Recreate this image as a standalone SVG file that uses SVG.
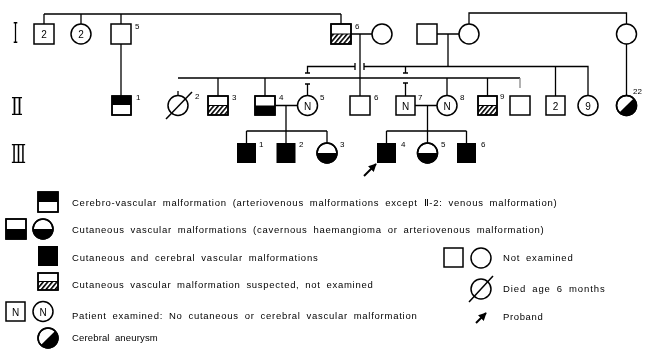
<svg xmlns="http://www.w3.org/2000/svg" width="649" height="355" viewBox="0 0 649 355">
<defs>
<style>
.ln{stroke:#000;stroke-width:1.3;fill:none}
.sh{fill:#fff;stroke:#000;stroke-width:1.5}
.ol{fill:none;stroke:#000;stroke-width:1.5}
.blk{fill:#000}
.hat{fill:url(#hatch)}
.lbl{font-family:"Liberation Sans",Arial,sans-serif;font-size:8px;fill:#000}
.in{font-family:"Liberation Sans",Arial,sans-serif;font-size:10px;fill:#000;text-anchor:middle}
.rom{font-family:"DejaVu Serif","Liberation Serif",serif;fill:#000}
.lg{font-family:"Liberation Sans",Arial,sans-serif;font-size:9.5px;letter-spacing:0.3px;word-spacing:2.5px;fill:#000}
</style>
<filter id="gs" filterUnits="userSpaceOnUse" x="0" y="0" width="649" height="355"><feOffset dx="0" dy="0"/></filter>
<pattern id="hatch" width="3.5" height="3.5" patternUnits="userSpaceOnUse" patternTransform="rotate(40)">
<line x1="0.8" y1="0" x2="0.8" y2="3.5" stroke="#000" stroke-width="1.6"/>
</pattern>
<marker id="arr" viewBox="0 0 10 10" refX="9" refY="5" markerWidth="4" markerHeight="4" orient="auto">
<path d="M0 0 L10 5 L0 10 Z" fill="#000"/>
</marker>
</defs>
<rect width="649" height="355" fill="#fff"/>
<g id="diagram" filter="url(#gs)">
<rect width="649" height="355" fill="#fff"/>

<!-- generation numerals -->
<g id="generations">
<text class="rom" x="13" y="43" font-size="27" textLength="5" lengthAdjust="spacingAndGlyphs">I</text>
<text class="rom" x="11" y="115" font-size="25" textLength="12" lengthAdjust="spacingAndGlyphs">Ⅱ</text>
<text class="rom" x="11" y="163" font-size="26" textLength="15" lengthAdjust="spacingAndGlyphs">Ⅲ</text>
</g>

<!-- connectors -->
<g id="connectors" class="ln">
<path d="M44 14 H341 M44 14 V24 M81 14 V24 M121 14 V24 M341 14 V24"/>
<path d="M351 34 H372 M360 34 V96"/>
<path d="M437 34 H459 M448 34 V66.5"/>
<path d="M469 24 V13 H626.5 V24 M626.5 44 V95.5"/>
<path d="M121 44 V96"/>
<path d="M307.5 73 V66.5 H355 M364 66.5 H588 V95.5 M355 63 V70 M364 63 V70"/>
<path d="M305 73 H310 M305 84 H310 M307.5 84 V95.5"/>
<path d="M405.5 66.5 V73 M403 73 H408 M403 83 H408 M405.5 83 V96"/>
<path d="M555.5 66.5 V96"/>
<path d="M178 78 H520 M218 78 V96 M265 78 V96 M447 78 V95.5 M487.5 78 V96"/>
<path d="M520 78 V88" stroke="#888"/>
<path d="M178 91 V95.5"/>
<path d="M275 105.5 H297.5 M286 105.5 V131 M246.5 131 H327 M246.5 131 V143 M327 131 V143"/>
<path d="M415 105.5 H437.5 M427.5 105.5 V143 M386.5 131 H466.5 M386.5 131 V143 M466.5 131 V143"/>
<path d="M286 131 V143"/>
</g>

<!-- Generation I -->
<g id="I-2m"><rect class="sh" x="34" y="24" width="20" height="20"/><text class="in" x="44" y="38">2</text></g>
<g id="I-2f"><circle class="sh" cx="81" cy="34" r="10"/><text class="in" x="81" y="38">2</text></g>
<g id="I-5"><rect class="sh" x="111" y="24" width="20" height="20"/><text class="lbl" x="135" y="29">5</text></g>
<g id="I-6"><rect class="sh" x="331" y="24" width="20" height="20"/><rect class="hat" x="331" y="34" width="20" height="10"/><rect class="ol" x="331" y="24" width="20" height="20"/><line x1="331" y1="34" x2="351" y2="34" stroke="#000" stroke-width="1"/><text class="lbl" x="355" y="29">6</text></g>
<g id="I-6w"><circle class="sh" cx="382" cy="34" r="10"/></g>
<g id="I-r1"><rect class="sh" x="417" y="24" width="20" height="20"/></g>
<g id="I-r2"><circle class="sh" cx="469" cy="34" r="10"/></g>
<g id="I-r3"><circle class="sh" cx="626.5" cy="34" r="10"/></g>

<!-- Generation II -->
<g id="II-1"><rect class="sh" x="112" y="96" width="19" height="19"/><rect class="blk" x="112" y="96" width="19" height="9"/><rect class="ol" x="112" y="96" width="19" height="19"/><text class="lbl" x="136" y="100">1</text></g>
<g id="II-2"><circle class="sh" cx="178" cy="105.5" r="10"/><line x1="166" y1="119" x2="192" y2="92" stroke="#000" stroke-width="1.5"/><text class="lbl" x="195" y="99">2</text></g>
<g id="II-3"><rect class="sh" x="208" y="96" width="20" height="19"/><rect class="hat" x="208" y="105.5" width="20" height="9.5"/><rect class="ol" x="208" y="96" width="20" height="19"/><line x1="208" y1="105.5" x2="228" y2="105.5" stroke="#000" stroke-width="1"/><text class="lbl" x="232" y="100">3</text></g>
<g id="II-4"><rect class="sh" x="255" y="96" width="20" height="19"/><rect class="blk" x="255" y="105.5" width="20" height="9.5"/><rect class="ol" x="255" y="96" width="20" height="19"/><text class="lbl" x="279" y="100">4</text></g>
<g id="II-5"><circle class="sh" cx="307.5" cy="105.5" r="10"/><text class="in" x="307.5" y="109.5" font-size="11">N</text><text class="lbl" x="320" y="100">5</text></g>
<g id="II-6"><rect class="sh" x="350" y="96" width="20" height="19"/><text class="lbl" x="374" y="100">6</text></g>
<g id="II-7"><rect class="sh" x="396" y="96" width="19" height="19"/><text class="in" x="405.5" y="109.5" font-size="11">N</text><text class="lbl" x="418" y="100">7</text></g>
<g id="II-8"><circle class="sh" cx="447" cy="105.5" r="10"/><text class="in" x="447" y="109.5" font-size="11">N</text><text class="lbl" x="460" y="100">8</text></g>
<g id="II-9"><rect class="sh" x="478" y="96" width="19" height="19"/><rect class="hat" x="478" y="105.5" width="19" height="9.5"/><rect class="ol" x="478" y="96" width="19" height="19"/><line x1="478" y1="105.5" x2="497" y2="105.5" stroke="#000" stroke-width="1"/><text class="lbl" x="500" y="99">9</text></g>
<g id="II-10"><rect class="sh" x="510" y="96" width="20" height="19"/></g>
<g id="II-11"><rect class="sh" x="546" y="96" width="19" height="19"/><text class="in" x="555.5" y="109.5">2</text></g>
<g id="II-12"><circle class="sh" cx="588" cy="105.5" r="10"/><text class="in" x="588" y="109.5">9</text></g>
<g id="II-22"><circle class="sh" cx="626.5" cy="105.5" r="10"/><path class="blk" d="M633.6 98.4 A10 10 0 0 1 619.4 112.6 Z"/><circle class="ol" cx="626.5" cy="105.5" r="10"/><text class="lbl" x="633" y="94">22</text></g>

<!-- Generation III -->
<g id="III-1"><rect class="blk" x="237" y="143" width="19" height="20"/><text class="lbl" x="259" y="147">1</text></g>
<g id="III-2"><rect class="blk" x="276.5" y="143" width="19" height="20"/><text class="lbl" x="299" y="147">2</text></g>
<g id="III-3"><circle class="sh" cx="327" cy="153" r="10"/><path class="blk" d="M317 153 A10 10 0 0 0 337 153 Z"/><circle class="ol" cx="327" cy="153" r="10"/><text class="lbl" x="340" y="147">3</text></g>
<g id="III-4"><rect class="blk" x="377" y="143" width="19" height="20"/><text class="lbl" x="401" y="147">4</text>
<line x1="364" y1="176" x2="376" y2="164" stroke="#000" stroke-width="2" marker-end="url(#arr)"/></g>
<g id="III-5"><circle class="sh" cx="427.5" cy="153" r="10"/><path class="blk" d="M417.5 153 A10 10 0 0 0 437.5 153 Z"/><circle class="ol" cx="427.5" cy="153" r="10"/><text class="lbl" x="441" y="147">5</text></g>
<g id="III-6"><rect class="blk" x="457" y="143" width="19" height="20"/><text class="lbl" x="481" y="147">6</text></g>

<!-- Legend -->
<g id="legend">
<rect class="sh" x="38" y="192" width="20" height="20"/><rect class="blk" x="38" y="192" width="20" height="10"/><rect class="ol" x="38" y="192" width="20" height="20"/>
<text class="lg" x="72" y="206" textLength="485" lengthAdjust="spacing">Cerebro-vascular malformation (arteriovenous malformations except Ⅱ-2: venous malformation)</text>

<rect class="sh" x="6" y="219" width="20" height="20"/><rect class="blk" x="6" y="229" width="20" height="10"/><rect class="ol" x="6" y="219" width="20" height="20"/>
<circle class="sh" cx="43" cy="229" r="10"/><path class="blk" d="M33 229 A10 10 0 0 0 53 229 Z"/><circle class="ol" cx="43" cy="229" r="10"/>
<text class="lg" x="72" y="233" textLength="472" lengthAdjust="spacing">Cutaneous vascular malformations (cavernous haemangioma or arteriovenous malformation)</text>

<rect class="blk" x="38" y="246" width="20" height="20"/>
<text class="lg" x="72" y="261" textLength="246" lengthAdjust="spacing">Cutaneous and cerebral vascular malformations</text>

<rect class="sh" x="38" y="273" width="20" height="17"/><rect class="hat" x="38" y="281.5" width="20" height="8.5"/><rect class="ol" x="38" y="273" width="20" height="17"/><line x1="38" y1="281.5" x2="58" y2="281.5" stroke="#000" stroke-width="1"/>
<text class="lg" x="72" y="288" textLength="301" lengthAdjust="spacing">Cutaneous vascular malformation suspected, not examined</text>

<rect class="sh" x="6" y="302" width="19" height="19"/><text class="in" x="15.5" y="315.5" font-size="11">N</text>
<circle class="sh" cx="43" cy="311.5" r="10"/><text class="in" x="43" y="315.5" font-size="11">N</text>
<text class="lg" x="72" y="319" textLength="345" lengthAdjust="spacing">Patient examined: No cutaneous or cerebral vascular malformation</text>

<circle class="sh" cx="48" cy="338" r="10"/><path class="blk" d="M55.1 330.9 A10 10 0 0 1 40.9 345.1 Z"/><circle class="ol" cx="48" cy="338" r="10"/>
<text class="lg" x="72" y="341" textLength="86" lengthAdjust="spacing">Cerebral aneurysm</text>

<rect class="sh" x="444" y="248" width="19" height="19"/><circle class="sh" cx="481" cy="258" r="10"/>
<text class="lg" x="503" y="261" textLength="70" lengthAdjust="spacing">Not examined</text>
<circle class="sh" cx="481" cy="289" r="10"/><line x1="469" y1="302" x2="493" y2="276" stroke="#000" stroke-width="1.5"/>
<text class="lg" x="503" y="292" textLength="102" lengthAdjust="spacing">Died age 6 months</text>
<line x1="476" y1="323" x2="486" y2="313" stroke="#000" stroke-width="2" marker-end="url(#arr)"/>
<text class="lg" x="503" y="320" textLength="40" lengthAdjust="spacing">Proband</text>
</g>
</g>
</svg>
